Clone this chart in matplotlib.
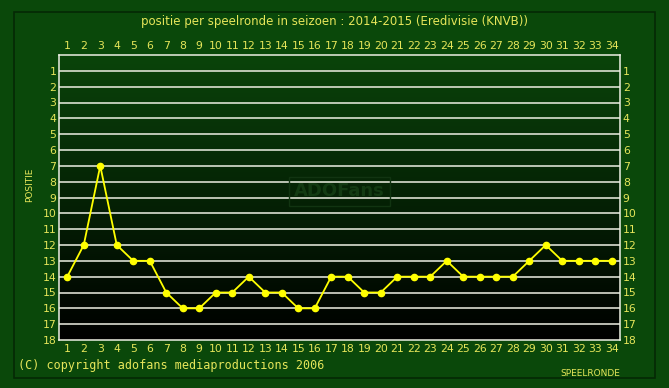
import numpy as np
import matplotlib
matplotlib.use('Agg')
import matplotlib.pyplot as plt
from matplotlib.patches import Rectangle

# --- data ---
rondes = list(range(1, 35))
positie = [14, 12, 7, 12, 13, 13, 15, 16, 16, 15, 15, 14, 15, 15, 16, 16, 14,
           14, 15, 15, 14, 14, 14, 13, 14, 14, 14, 14, 13, 12, 13, 13, 13, 13]
posities = list(range(1, 19))

BG = '#0a480a'
TXT = '#e6e65a'
LINE = '#ffff00'
GRID = '#eef0e4'

W, H = 669, 388
fig = plt.figure(figsize=(W / 100, H / 100), dpi=100, facecolor=BG)

# outer frame
fig.patches.append(Rectangle((14 / W, 1 - 378 / H), (655 - 14) / W, (378 - 12) / H,
                             transform=fig.transFigure, fill=False,
                             edgecolor='#052805', linewidth=1.2))

ax = fig.add_axes([59 / W, 1 - 340 / H, (620 - 59) / W, (340 - 55) / H])
ax.set_xlim(0.5, 34.5)
ax.set_ylim(18, 0)

# gradient: dark green top -> black bottom
grad = np.linspace(0, 1, 256).reshape(-1, 1)
cmap = matplotlib.colors.LinearSegmentedColormap.from_list('g', ['#0a440a', '#000000'])
ax.imshow(grad, cmap=cmap, aspect='auto', extent=(0.5, 34.5, 18, 0), zorder=0)

for p in posities[:-1]:
    ax.axhline(p, color=GRID, linewidth=1.1, zorder=1)

# watermark (faint)
ax.text(17.5, 8.6, 'ADOFans', color='#123a12', fontsize=13, fontweight='bold',
        ha='center', va='center', zorder=1,
        bbox=dict(boxstyle='square,pad=0.3', fc='none', ec='#113411', lw=1))

ax.plot(rondes, positie, color=LINE, linewidth=1.3, marker='o', markersize=4.5,
        markerfacecolor=LINE, markeredgecolor=LINE, zorder=3)

for s in ax.spines.values():
    s.set_color(GRID)
    s.set_linewidth(1.1)

ax.set_xticks(rondes)
ax.set_xticklabels([str(r) for r in rondes])
ax.set_yticks(posities)
ax.set_yticklabels([str(p) for p in posities])
ax.tick_params(axis='both', colors=TXT, labelsize=7.8, length=0, pad=3,
               top=True, labeltop=True, right=True, labelright=True)
ax.tick_params(axis='y', pad=2)

fig.text(0.5, 1 - 22 / H, 'positie per speelronde in seizoen : 2014-2015 (Eredivisie (KNVB))',
         color=TXT, fontsize=8.5, ha='center', va='center')
fig.text(30 / W, 1 - 185 / H, 'POSITIE', color=TXT, fontsize=6.5, rotation=90,
         ha='center', va='center')
fig.text(590 / W, 1 - 374 / H, 'SPEELRONDE', color=TXT, fontsize=6.5,
         ha='center', va='center')
fig.text(18 / W, 1 - 366 / H, '(C) copyright adofans mediaproductions 2006',
         color=TXT, fontsize=8.5, family='DejaVu Sans Mono', ha='left', va='center')

fig.savefig('out.png', dpi=100, facecolor=BG)
